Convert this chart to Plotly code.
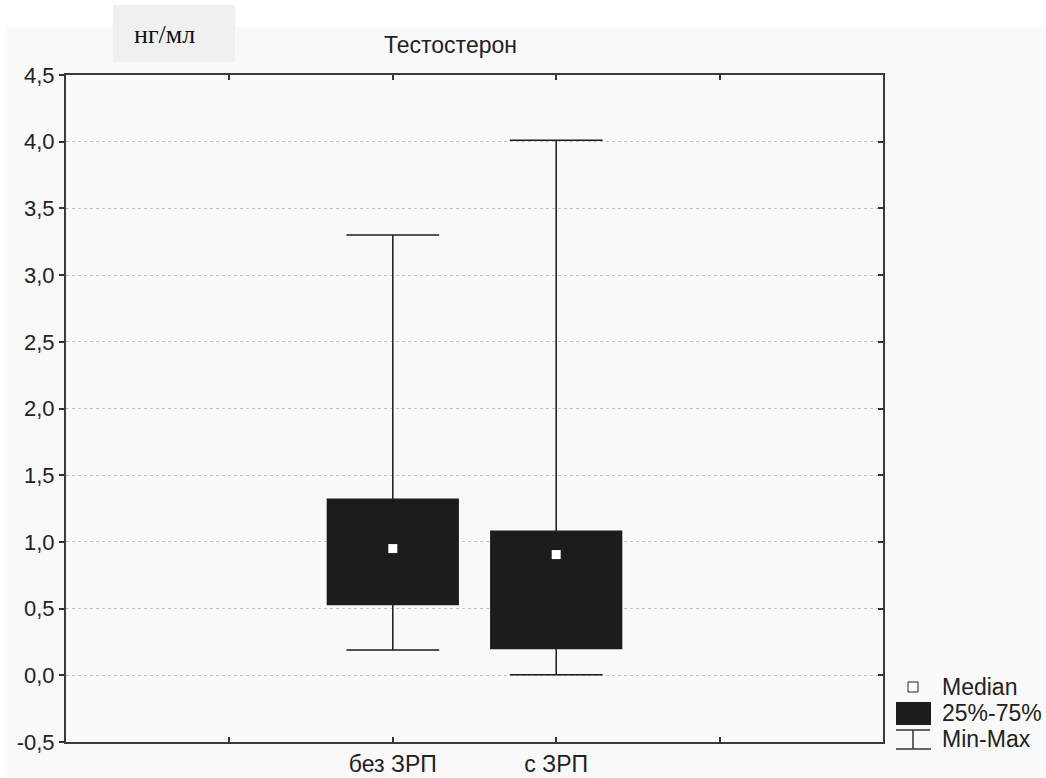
import plotly.graph_objects as go

# ---- data ----
categories = ["без ЗРП", "с ЗРП"]
q1 = [0.53, 0.20]
q3 = [1.32, 1.08]
medians = [0.95, 0.905]
mins = [0.19, 0.005]
maxs = [3.30, 4.01]
tick_labels = ["", "без ЗРП", "с ЗРП", ""]
y_ticks = [-0.5, 0.0, 0.5, 1.0, 1.5, 2.0, 2.5, 3.0, 3.5, 4.0, 4.5]
y_tick_text = ["-0,5", "0,0", "0,5", "1,0", "1,5", "2,0", "2,5", "3,0", "3,5", "4,0", "4,5"]

W, H = 1046, 778
L, R, T, B = 66, 163, 75, 36
PW, PH = W - L - R, H - T - B

def fx(px):
    return (px - L) / PW

def fy(py):
    return (H - B - py) / PH

FONT = "Liberation Sans, Arial, sans-serif"
xpos = [i + 1 for i in range(len(categories))]

fig = go.Figure()

for i, c in enumerate(categories):
    fig.add_trace(go.Box(
        x=[xpos[i]], q1=[q1[i]], median=[medians[i]], q3=[q3[i]],
        lowerfence=[mins[i]], upperfence=[maxs[i]],
        width=0.8, whiskerwidth=0.71,
        fillcolor="#1c1c1c", line=dict(color="#1c1c1c", width=1.5),
        boxpoints=False, showlegend=False, name=c, hoverinfo="skip",
    ))

fig.add_trace(go.Scatter(
    x=xpos, y=medians, mode="markers",
    marker=dict(symbol="square", size=9, color="white", line=dict(width=0)),
    showlegend=False, hoverinfo="skip",
))

# invisible trace for right-side tick axis
fig.add_trace(go.Scatter(x=[xpos[0]], y=[medians[0]], yaxis="y2", mode="markers",
                         marker=dict(opacity=0), showlegend=False, hoverinfo="skip"))

shapes = [
    dict(type="rect", xref="paper", yref="paper", x0=fx(7), x1=fx(W), y0=fy(27), y1=fy(H),
         fillcolor="#f9f9f9", line=dict(width=0), layer="below"),
    dict(type="rect", xref="paper", yref="paper", x0=fx(113), x1=fx(235), y0=fy(5), y1=fy(62),
         fillcolor="#f0f0f0", line=dict(width=0), layer="below"),
    dict(type="rect", xref="paper", yref="paper", x0=fx(908), x1=fx(918), y0=fy(682), y1=fy(692),
         fillcolor="white", line=dict(color="#222222", width=1)),
    dict(type="rect", xref="paper", yref="paper", x0=fx(896), x1=fx(931), y0=fy(702), y1=fy(725),
         fillcolor="#1c1c1c", line=dict(width=0)),
    dict(type="line", xref="paper", yref="paper", x0=fx(896), x1=fx(930), y0=fy(730), y1=fy(730),
         line=dict(color="#333333", width=1.5)),
    dict(type="line", xref="paper", yref="paper", x0=fx(913), x1=fx(913), y0=fy(730), y1=fy(749),
         line=dict(color="#333333", width=1.5)),
    dict(type="line", xref="paper", yref="paper", x0=fx(896), x1=fx(931), y0=fy(749), y1=fy(749),
         line=dict(color="#333333", width=1.5)),
]

annotations = [
    dict(text="Тестостерон", xref="paper", yref="paper", x=fx(450), y=fy(45),
         showarrow=False, font=dict(family=FONT, size=23, color="#222222"),
         xanchor="center", yanchor="middle"),
    dict(text="нг/мл", xref="paper", yref="paper", x=fx(164), y=fy(34),
         showarrow=False, font=dict(family="Liberation Serif, Times New Roman, serif", size=26, color="#111111"),
         xanchor="center", yanchor="middle"),
]
for txt, py in [("Median", 687), ("25%-75%", 713), ("Min-Max", 739)]:
    annotations.append(dict(text=txt, xref="paper", yref="paper", x=fx(940), y=fy(py),
                            showarrow=False, xanchor="left", yanchor="middle",
                            font=dict(family=FONT, size=23, color="#222222")))

fig.update_layout(
    width=W, height=H,
    margin=dict(l=L, r=R, t=T, b=B, autoexpand=False),
    paper_bgcolor="white", plot_bgcolor="#f9f9f9",
    showlegend=False,
    shapes=shapes, annotations=annotations,
    font=dict(family=FONT, size=22, color="#222222"),
    xaxis=dict(range=[-1, 4], tickvals=[0, 1, 2, 3], ticktext=tick_labels,
               ticks="inside", ticklen=5, tickcolor="#333333", tickwidth=1.5,
               showline=True, linecolor="#3a3a3a", linewidth=2, mirror="ticks",
               showgrid=False, zeroline=False, automargin=False,
               tickfont=dict(family=FONT, size=23, color="#222222")),
    yaxis=dict(range=[-0.5, 4.5], tickvals=y_ticks, ticktext=y_tick_text,
               ticks="outside", ticklen=5, tickcolor="#333333", tickwidth=1.5,
               showline=True, linecolor="#3a3a3a", linewidth=2, mirror=True,
               showgrid=True, gridcolor="#c4c4c4", gridwidth=1, griddash="dot",
               zeroline=False, ticklabelstandoff=0, automargin=False,
               tickfont=dict(family=FONT, size=22, color="#222222")),
    yaxis2=dict(range=[-0.5, 4.5], tickvals=y_ticks, overlaying="y", side="right",
                ticks="inside", ticklen=5, tickcolor="#333333", tickwidth=1.5,
                showticklabels=False, showgrid=False, zeroline=False, showline=False,
                automargin=False),
)

fig.write_html(
    "out.html",
    config={"displayModeBar": False},
    post_script=(
        "document.body.style.margin='0';"
        "document.body.style.overflow='hidden';"
        "document.documentElement.style.overflow='hidden';"
    ),
)
